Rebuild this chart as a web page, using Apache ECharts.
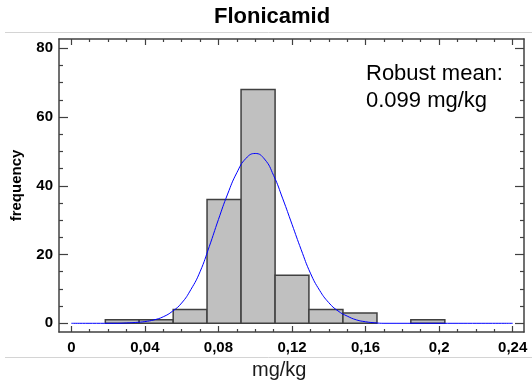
<!DOCTYPE html>
<html>
<head>
<meta charset="utf-8">
<script src="https://cdn.jsdelivr.net/npm/echarts@6/dist/echarts.min.js"></script>
<style>
html,body{margin:0;padding:0;background:#fff;}
#chart{width:532px;height:388px;}
</style>
</head>
<body>
<div id="chart"></div>
<script>
// ---- data ----
const binStart = [0.0185, 0.0369, 0.0554, 0.0738, 0.0923, 0.1108, 0.1292, 0.1477, 0.1846];
const binEnd   = [0.0369, 0.0554, 0.0738, 0.0923, 0.1108, 0.1292, 0.1477, 0.1662, 0.2031];
const counts   = [1, 1, 4, 36, 68, 14, 4, 3, 1];

const curveX = [0, 0.025, 0.03, 0.035, 0.04, 0.045, 0.05, 0.055, 0.06, 0.065, 0.07, 0.075, 0.08, 0.085, 0.09, 0.095, 0.1, 0.105, 0.11, 0.115, 0.12, 0.125, 0.13, 0.135, 0.14, 0.145, 0.15, 0.155, 0.16, 0.165, 0.17, 0.24];
const curveY = [0, 0, 0.1, 0.25, 0.5, 1.0, 1.9, 3.5, 5.9, 9.8, 15.0, 22.3, 30.2, 37.6, 43.8, 48.0, 49.4, 47.8, 43.0, 36.2, 28.8, 21.4, 14.6, 9.6, 6.0, 3.6, 2.1, 1.0, 0.45, 0.15, 0, 0];

const xMajorTicks = [0, 0.04, 0.08, 0.12, 0.16, 0.2, 0.24];
const xMinorTicks = [0.01, 0.02, 0.03, 0.05, 0.06, 0.07, 0.09, 0.1, 0.11, 0.13, 0.14, 0.15, 0.17, 0.18, 0.19, 0.21, 0.22, 0.23];
const yMajorTicks = [0, 20, 40, 60, 80];
const yMinorTicks = [5, 10, 15, 25, 30, 35, 45, 50, 55, 65, 70, 75];

const titleText = 'Flonicamid';
const noteText = 'Robust mean:\n0.099 mg/kg';
const xName = 'mg/kg';
const yName = 'frequency';

// ---- chart ----
const FONT = "'Liberation Sans', Arial, sans-serif";
const FRAME = '#404040';
const X_MIN = -0.00669, X_MAX = 0.24614;
const Y_MIN = -2.53, Y_MAX = 82.7;

function xAx(pos, ticks, len, showLine, showLabel) {
  return {
    type: 'value', position: pos, min: X_MIN, max: X_MAX,
    axisLine: { show: showLine, onZero: false, lineStyle: { color: FRAME, width: 1.5 } },
    axisTick: { show: true, inside: true, length: len, customValues: ticks, lineStyle: { color: FRAME, width: 1.2 } },
    axisLabel: showLabel ? {
      show: true, customValues: ticks, margin: 8,
      formatter: v => String(v).replace('.', ','),
      fontFamily: FONT, fontWeight: 'bold', fontSize: 15, color: '#000'
    } : { show: false },
    splitLine: { show: false }, minorTick: { show: false }
  };
}
function yAx(pos, ticks, len, showLine, showLabel, name) {
  const a = {
    type: 'value', position: pos, min: Y_MIN, max: Y_MAX,
    axisLine: { show: showLine, onZero: false, lineStyle: { color: FRAME, width: 1.5 } },
    axisTick: { show: true, inside: true, length: len, customValues: ticks, lineStyle: { color: FRAME, width: 1.2 } },
    axisLabel: showLabel ? {
      show: true, customValues: ticks, margin: 6,
      fontFamily: FONT, fontWeight: 'bold', fontSize: 15, color: '#000'
    } : { show: false },
    splitLine: { show: false }, minorTick: { show: false }
  };
  if (name) {
    a.name = name;
    a.nameLocation = 'middle';
    a.nameRotate = 90;
    a.nameGap = 35;
    a.nameTextStyle = { fontFamily: FONT, fontWeight: 'bold', fontSize: 15, color: '#000' };
  }
  return a;
}

const barData = binStart.map((s, i) => [s, binEnd[i], counts[i]]);
const curveData = curveX.map((x, i) => [x, curveY[i]]);

const chart = echarts.init(document.getElementById('chart'), null, { renderer: 'canvas' });
chart.setOption({
  animation: false,
  backgroundColor: '#fff',
  title: [
    { text: titleText, left: 214, top: 6, padding: 0,
      textStyle: { fontFamily: FONT, fontWeight: 'bold', fontSize: 22, color: '#000' } },
    { text: noteText, left: 366, top: 60, padding: 0,
      textStyle: { fontFamily: FONT, fontWeight: 'normal', fontSize: 22, lineHeight: 27, color: '#000' } },
    { text: xName, left: 252, top: 360, padding: 0,
      textStyle: { fontFamily: FONT, fontWeight: 'normal', fontSize: 20, color: '#1a1a1a' } }
  ],
  graphic: [
    { type: 'line', shape: { x1: 5, y1: 32.5, x2: 532, y2: 32.5 }, style: { stroke: '#d4d4d4', lineWidth: 1 }, silent: true },
    { type: 'line', shape: { x1: 5, y1: 357.5, x2: 532, y2: 357.5 }, style: { stroke: '#d4d4d4', lineWidth: 1 }, silent: true }
  ],
  grid: { left: 59, top: 39, width: 465, height: 293, containLabel: false },
  xAxis: [
    xAx('bottom', xMajorTicks, 6, true, true),
    xAx('bottom', xMinorTicks, 3, false, false),
    xAx('top', xMajorTicks, 6, true, false),
    xAx('top', xMinorTicks, 3, false, false)
  ],
  yAxis: [
    yAx('left', yMajorTicks, 9, true, true, yName),
    yAx('left', yMinorTicks, 4, false, false),
    yAx('right', yMajorTicks, 9, true, false),
    yAx('right', yMinorTicks, 4, false, false)
  ],
  series: [
    {
      type: 'custom', xAxisIndex: 0, yAxisIndex: 0, z: 2,
      encode: { x: [0, 1], y: 2 },
      data: barData,
      renderItem: function (params, api) {
        const p0 = api.coord([api.value(0), api.value(2)]);
        const p1 = api.coord([api.value(1), 0]);
        return {
          type: 'rect',
          shape: { x: p0[0], y: p0[1], width: p1[0] - p0[0], height: p1[1] - p0[1] },
          style: { fill: '#c0c0c0', stroke: '#404040', lineWidth: 1.5 }
        };
      }
    },
    {
      type: 'line', xAxisIndex: 0, yAxisIndex: 0, z: 3,
      data: curveData, smooth: true, showSymbol: false, symbol: 'none',
      lineStyle: { color: '#0000ff', width: 1 }
    }
  ]
});
</script>
</body>
</html>
